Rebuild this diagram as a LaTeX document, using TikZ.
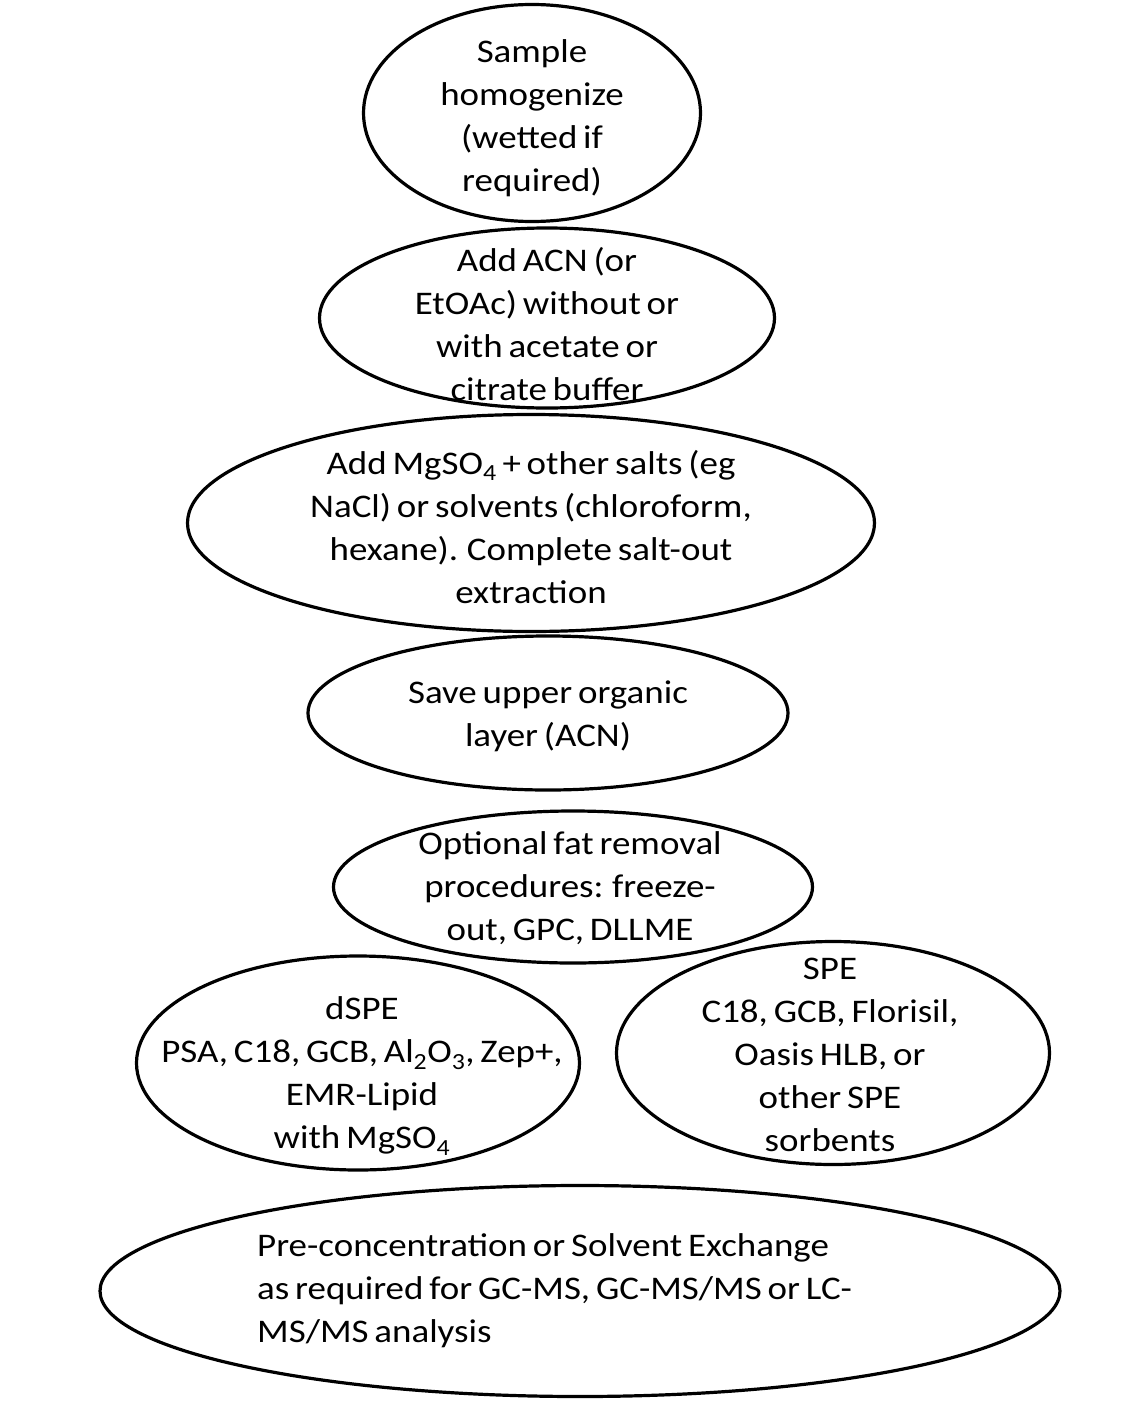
\documentclass[tikz,border=0pt]{standalone}
\usepackage{fontspec}
\setmainfont{Carlito}[FakeStretch=1.12,WordSpace=0.7]
\usetikzlibrary{shapes.geometric}
\begin{document}
\begin{tikzpicture}[x=1pt,y=-1pt,
  oval/.style={draw=black,line width=3.2pt,ellipse,inner sep=0pt,fill=none},
  lbl/.style={align=center,inner sep=0pt,font=\fontsize{33}{43}\selectfont}]
\useasboundingbox[fill=white] (0,0) rectangle (1143,1413);
% ellipses
\node[oval,minimum width=337pt,minimum height=217pt] (e1) at (532,113) {};
\node[oval,minimum width=455pt,minimum height=180pt] (e2) at (547,318) {};
\node[oval,minimum width=687pt,minimum height=217pt] (e3) at (531,523) {};
\node[oval,minimum width=480pt,minimum height=154pt] (e4) at (548,713) {};
\node[oval,minimum width=479pt,minimum height=152pt] (e5) at (573,887) {};
\node[oval,minimum width=443pt,minimum height=214pt] (e6) at (358,1063) {};
\node[oval,minimum width=433pt,minimum height=223pt] (e7) at (833,1053) {};
\node[oval,minimum width=960pt,minimum height=211pt] (e8) at (580,1291) {};
% texts
\node[lbl] (t1) at (532,118) {Sample\\homogenize\\(wetted if\\required)};
\node[lbl] (t2) at (547,324) {Add ACN (or\\EtOAc) without or\\with acetate or\\citrate buffer};
\node[lbl] (t3) at (531,527) {Add MgSO\textsubscript{4} + other salts (eg\\NaCl) or solvents (chloroform,\\hexane). Complete salt-out\\extraction};
\node[lbl] (t4) at (548,716) {Save upper organic\\layer (ACN)};
\node[lbl] (t5) at (570,888) {Optional fat removal\\procedures: freeze-\\out, GPC, DLLME};
\node[lbl] (t6) at (362,1076) {dSPE\\PSA, C18, GCB, Al\textsubscript{2}O\textsubscript{3}, Zep+,\\EMR-Lipid\\with MgSO\textsubscript{4}};
\node[lbl] (t7) at (830,1055) {SPE\\C18, GCB, Florisil,\\Oasis HLB, or\\other SPE\\sorbents};
\node[lbl,align=left,anchor=west] (t8) at (257,1291) {Pre-concentration or Solvent Exchange\\as required for GC-MS, GC-MS/MS or LC-\\MS/MS analysis};
\end{tikzpicture}
\end{document}
